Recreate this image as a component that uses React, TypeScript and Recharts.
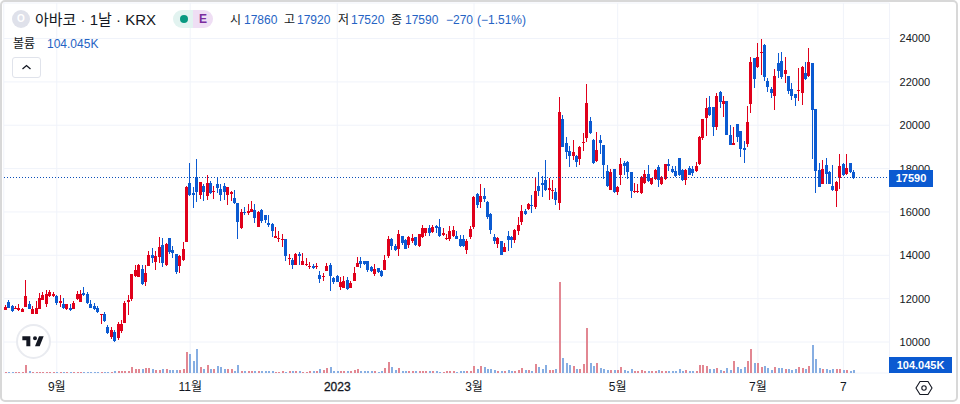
import React from "react";
import { ComposedChart, Bar, XAxis, YAxis, CartesianGrid, ReferenceLine } from "recharts";

const opens = [
  11480,11840,11680,11530,11470,11410,11610,11760,11300,11300,
  11530,11950,11760,12150,12150,12100,11790,11760,11530,11560,
  11530,11990,11840,12260,12230,11760,11670,11560,11250,11270,
  10670,10220,10480,10170,10510,10900,11870,11990,13030,13030,
  13380,12750,13520,14020,13710,13910,14490,13540,14800,14260,
  14060,13490,13770,14600,17320,16860,17630,16780,17200,16730,
  17350,16920,17270,17070,17200,16810,16840,16660,16390,15270,
  16010,15960,15990,16070,15330,16090,15840,15470,15450,14830,
  14770,14730,14760,13850,13800,13570,14060,13570,13570,13480,
  13520,13440,13100,13010,13290,13570,12940,13060,12530,12500,
  12840,12500,12830,13490,13740,13720,13720,13460,13150,13430,
  13270,13350,13960,14760,14420,14330,14900,14700,14490,14680,
  14850,14420,14850,15040,15270,15080,15340,15310,14940,14760,
  14760,14910,14910,14750,14750,14250,14840,15290,16840,16470,
  16730,16460,15920,14840,14500,14650,14160,14900,14840,14680,
  15150,15520,16060,16130,16320,16240,17210,17340,17490,17030,
  16950,16900,16400,20310,19160,18820,18600,18600,18460,19170,
  19400,20190,19300,18370,19330,19080,17890,17030,17980,16900,
  17720,18260,18310,17850,16920,16920,16870,17340,17750,17280,
  17520,18080,17310,17520,18220,18000,17890,18490,17940,17460,
  18050,17980,17910,18190,19390,20310,20850,20840,19910,21530,
  20960,21100,19570,19110,20050,19730,18930,19110,20960,23090,
  22730,23320,23690,22040,21650,21350,22860,22980,22360,22260,
  21690,21420,21560,21480,22400,22240,22870,20730,17950,17310,
  18180,17850,17210,16990,17570,18210,17750,18250,17860,
];
const highs = [
  11720,11920,11720,11640,11750,11560,12870,11870,11640,11870,
  12260,12290,12410,12380,12330,12180,12180,12020,11760,11760,
  11870,12350,12380,12530,12330,11950,11790,11640,11290,11380,
  10790,10670,10560,10940,11020,11870,12180,13150,13570,13600,
  13570,13570,14190,14340,14190,14850,14800,14570,14820,14420,
  14080,14030,14620,17200,18250,17150,18430,17400,17270,17710,
  17430,17200,17630,17270,17350,17170,16960,17000,16400,16150,
  16240,16380,16490,16350,16030,16120,15840,15880,15470,15310,
  15140,14960,14770,14080,13880,14110,14140,14110,13880,13680,
  13600,13640,13260,13180,13640,13640,13000,13100,13000,13030,
  13000,12800,13460,13920,13920,13720,13750,13490,13600,13430,
  13300,14020,14910,14800,14530,15190,14910,14730,14910,14960,
  14850,14990,15420,15270,15380,15420,15420,15680,15270,14960,
  15370,15370,15140,14950,14950,14750,15330,16720,16870,17310,
  17100,16490,15950,14990,14840,14650,14560,15100,14900,15210,
  15790,16330,16130,16410,16800,17550,17860,17650,18410,17570,
  17490,17100,21320,20450,19450,19030,19300,18650,19030,19650,
  21890,20380,19370,19700,19530,19110,18180,17980,17980,17210,
  18490,18340,18340,17860,17340,17300,17680,17950,18180,17570,
  17980,18180,17650,18230,18460,18140,18140,18510,17980,17980,
  18140,18140,18290,19500,20300,21270,21350,20850,21500,21580,
  21350,21120,19990,19930,20080,19730,19260,20910,23160,23120,
  23780,23970,23770,22190,21760,22610,23350,23380,23150,22270,
  21960,21420,22660,22730,22920,23550,22890,20760,18260,18380,
  18490,17880,18180,17410,18690,18260,18690,18260,17920,
];
const lows = [
  11480,11530,11420,11480,11440,11380,11610,11510,11300,11300,
  11510,11920,11640,12060,12100,11720,11640,11510,11480,11440,
  11480,11950,11820,12100,11790,11560,11450,11300,10840,10900,
  10360,10100,9990,10130,10430,10870,11250,11920,13000,13030,
  12640,12600,13490,13640,13310,13640,13460,13520,14080,13880,
  13180,13210,13750,14600,16730,16160,16460,16630,16500,16550,
  16810,16610,16890,16470,16580,16350,16500,16350,14730,15220,
  15880,15850,15960,15470,15310,15470,15470,15310,14830,14820,
  14620,14370,13750,13570,13380,13540,13540,13540,13520,13340,
  13370,13380,12690,12800,13260,12330,12690,12770,12410,12490,
  12380,12460,12800,13460,13410,13520,13230,13210,13030,13210,
  13000,13340,13910,14260,14190,14000,14490,14260,14370,14530,
  14420,14390,14800,14880,14880,15040,15040,14850,14880,14700,
  14700,14850,14760,14400,14410,14040,14720,15180,16180,16200,
  16440,15670,14990,14530,14310,13990,14130,14160,14330,14560,
  14950,15410,15870,16070,15980,16130,16750,16690,17000,16540,
  16600,16320,16100,18960,18420,18080,18390,18110,18140,18800,
  19220,19600,18230,18310,18650,17550,17150,17000,16870,16800,
  17260,17680,17520,16640,16900,16900,16840,17310,17400,17240,
  17490,17180,17240,17490,17920,17830,17650,17680,17410,17230,
  17710,17680,17830,18150,19340,19500,20450,19530,19770,20780,
  20370,19530,19110,19080,19260,18540,18250,19030,20580,21720,
  22610,22320,22040,21550,21270,20700,22190,22120,21930,21450,
  21160,20880,21160,20930,22090,22190,18480,16900,17150,17260,
  17310,17290,16980,16210,17090,17680,17710,17800,17520,
];
const closes = [
  11610,11560,11450,11590,11560,11530,12100,11530,11510,11590,
  12020,12180,12230,12330,12230,11760,11890,11580,11750,11480,
  11820,12210,12230,12160,11820,11560,11510,11380,11280,10940,
  10400,10560,10050,10830,10830,11820,11950,13140,13310,13570,
  12690,13180,14020,13860,13990,14390,13660,14530,14140,14110,
  13240,13970,14290,17150,16780,16780,16920,17400,16940,17350,
  16890,16970,17100,16780,16940,17170,16930,16430,15530,16010,
  15950,16040,16150,15700,16010,15580,15610,15360,15140,14910,
  14820,14760,13960,13890,13570,14080,13990,13740,13620,13520,
  13440,13490,12920,13060,13520,13060,12750,12800,12780,12830,
  12440,12720,13180,13660,13590,13570,13310,13290,13370,13260,
  13030,13800,14730,14420,14220,15000,14570,14280,14850,14820,
  14490,14960,15270,15270,15040,15310,15250,14880,15040,14800,
  15140,15190,14790,14410,14440,14670,15230,16690,16330,16750,
  16610,15790,15180,14650,14780,13990,14380,14720,14720,15150,
  15410,16040,15920,16350,16260,16980,16980,17230,17030,17100,
  17010,16520,20620,19000,18760,18600,18770,18340,19000,19230,
  21010,19620,18250,18880,19170,18140,17180,17860,16900,17150,
  18230,18110,17830,16980,16970,16970,17610,17770,17440,17570,
  17950,17460,17610,18220,18140,17860,17680,17710,17490,17920,
  17750,17800,18140,19450,20270,20780,20500,19910,21330,21070,
  21120,19530,19110,19190,19450,18880,18850,20130,22920,22120,
  23170,23380,22230,21750,21480,22260,22490,22240,22530,21550,
  21390,21240,21620,22690,22120,22900,20720,17880,17180,17990,
  17750,17310,17010,17400,18140,17690,18030,17830,17590,
];
const volumesK = [
  30,40,30,30,30,40,310,70,50,50,
  60,60,60,60,50,40,50,40,60,40,
  60,60,60,60,60,50,50,40,60,50,
  60,60,80,70,70,90,90,230,180,180,
  150,210,210,150,130,140,160,160,130,130,
  120,120,160,860,750,480,970,230,170,310,
  170,160,270,230,170,160,160,100,310,100,
  80,80,70,70,80,70,70,70,70,60,
  60,70,50,93,93,65,65,40,40,80,
  65,80,146,133,186,253,93,80,65,65,
  65,65,106,160,80,65,65,65,65,53,
  65,200,440,240,106,200,80,65,65,65,
  65,65,65,65,65,65,65,53,53,65,
  65,65,27,65,65,65,93,266,146,266,
  226,146,146,106,65,65,80,106,80,80,
  106,186,106,106,80,346,226,146,306,106,
  106,146,3660,585,412,306,266,146,146,346,
  1820,386,266,412,186,146,106,106,106,106,
  226,106,80,146,80,80,106,80,65,65,
  65,106,65,65,65,65,65,146,65,106,
  65,65,65,306,306,266,160,160,186,106,
  65,186,106,492,226,146,226,465,970,386,
  386,240,266,186,106,226,186,186,146,146,
  106,146,226,186,146,266,1130,572,186,160,
  160,106,146,160,146,106,106,65,104,
];
const tickIndexes = [15, 54, 97, 137, 179, 220, 245];
const tickLabels = ["9월", "11월", "2023", "3월", "5월", "7월", "7"];
const priceTicks = [10000, 12000, 14000, 16000, 18000, 20000, 22000, 24000];
const lastPrice = 17590;
const slotCount = 259;

const UP = "#e0001b";
const DOWN = "#0b5ad1";
const UP_VOL = "#e28792";
const DOWN_VOL = "#87aee2";
const TEXT = "#131722";
const VALUE = "#2563c4";

const rows = Array.from({ length: slotCount }, (_, i) => {
  if (i >= opens.length) return { idx: i };
  const o = opens[i], c = closes[i];
  return {
    idx: i,
    up: c >= o,
    wick: [lows[i], highs[i]],
    body: [Math.min(o, c), Math.max(o, c)],
    volume: volumesK[i],
  };
});

const Candle = (p: any) => {
  if (p.payload?.wick == null || !Number.isFinite(p.y) || !Number.isFinite(p.height)) return null;
  return (
    <rect x={Math.round(p.x)} y={Math.round(p.y)} width={p.barW}
      height={Math.max(1, Math.round(p.height))}
      fill={p.payload.up ? UP : DOWN} shapeRendering="crispEdges" />
  );
};
const VolumeBar = (p: any) => {
  if (p.payload?.volume == null || !Number.isFinite(p.height)) return null;
  const top = Math.round(p.y);
  const bottom = Math.round(p.y + p.height);
  return (
    <rect x={Math.round(p.x)} y={Math.min(top, bottom - 1)} width={2}
      height={Math.max(1, bottom - top)}
      fill={p.payload.up ? UP_VOL : DOWN_VOL} shapeRendering="crispEdges" />
  );
};
const AxisTick = (p: any) => {
  const label = tickLabels[tickIndexes.indexOf(p.payload.value)];
  return (
    <text x={p.x} y={388} textAnchor="middle" dominantBaseline="middle" fontSize={12}
      stroke={label === "2023" ? TEXT : "none"} strokeWidth={0.3} fill={TEXT}>{label}</text>
  );
};

const abs = (left: number, top: number, extra: React.CSSProperties = {}): React.CSSProperties => ({
  position: "absolute", left, top, whiteSpace: "nowrap", ...extra,
});
const ohlc: [string, number, string, number][] = [
  ["시", 230, "17860", 244],
  ["고", 284, "17920", 297],
  ["저", 338, "17520", 351],
  ["종", 391, "17590", 405],
];

export default function App() {
  return (
    <div style={{ position: "fixed", left: 0, top: 0, width: 960, height: 404, background: "#fff", overflow: "hidden",
      fontFamily: '"Liberation Sans", "Noto Sans CJK KR", sans-serif', color: TEXT }}>
      <ComposedChart width={960} height={404} data={rows} barCategoryGap={0}
        margin={{ top: 3, right: 0, bottom: 0, left: 3.79 }}
        style={{ position: "absolute", left: 0, top: 0, fontFamily: "inherit" }}>
        <CartesianGrid xAxisId="main" yAxisId="price" stroke="#f0f3fa" strokeWidth={1} />
        <XAxis xAxisId="main" dataKey="idx" type="category" ticks={tickIndexes} interval={0} height={31}
          axisLine={false} tickLine={false} tick={AxisTick} />
        <XAxis xAxisId="wick" dataKey="idx" type="category" hide />
        <XAxis xAxisId="vol" dataKey="idx" type="category" hide />
        <YAxis yAxisId="price" orientation="right" domain={[8570, 25640]} ticks={priceTicks} interval={0}
          width={70.43} axisLine={false} tickLine={false} tickMargin={4} allowDataOverflow
          tick={{ fontSize: 11, fill: TEXT }} />
        <YAxis yAxisId="volume" orientation="left" domain={[0, 14800]} hide allowDataOverflow />
        <ReferenceLine xAxisId="main" yAxisId="price" y={lastPrice} stroke="#0b4fb8" strokeDasharray="1 2"
          strokeWidth={1} shapeRendering="crispEdges" />
        <Bar xAxisId="vol" yAxisId="volume" dataKey="volume" barSize={2} isAnimationActive={false} shape={VolumeBar} />
        <Bar xAxisId="wick" yAxisId="price" dataKey="wick" barSize={1} isAnimationActive={false}
          shape={(p: any) => <Candle {...p} barW={1} />} />
        <Bar xAxisId="main" yAxisId="price" dataKey="body" barSize={3} isAnimationActive={false}
          shape={(p: any) => <Candle {...p} barW={3} />} />
      </ComposedChart>

      {/* frame */}
      <div style={{ position: "absolute", left: 0, top: 0, width: 954, height: 398, border: "2px solid #d8d8d8", borderRadius: 5, pointerEvents: "none" }} />

      {/* header */}
      <div style={abs(12, 10, { width: 18, height: 18, borderRadius: 9, background: "#dfe1ea", color: "#fff", fontSize: 10, fontWeight: 700, lineHeight: "18px", textAlign: "center" })}>O</div>
      <div style={abs(35, 10, { fontSize: 15, lineHeight: "19px" })}>아바코 · 1날 · KRX</div>
      <div style={abs(173, 10, { width: 20, height: 18, background: "#e2f3f0", borderRadius: "9px 0 0 9px" })} />
      <div style={abs(193, 10, { width: 20, height: 18, background: "#efdef4", borderRadius: "0 9px 9px 0", color: "#7b2c9e", fontSize: 12, fontWeight: 700, lineHeight: "18px", textAlign: "center" })}>E</div>
      <div style={abs(180, 15, { width: 8, height: 8, borderRadius: 4, background: "#089981" })} />
      {ohlc.map(([k, kx, v, vx]) => (
        <React.Fragment key={k}>
          <span style={abs(kx, 13, { fontSize: 12, lineHeight: "14px" })}>{k}</span>
          <span style={abs(vx, 13, { fontSize: 12, lineHeight: "14px", color: VALUE })}>{v}</span>
        </React.Fragment>
      ))}
      <span style={abs(446, 13, { fontSize: 12, lineHeight: "14px", color: VALUE })}>−270</span>
      <span style={abs(477, 13, { fontSize: 12, lineHeight: "14px", color: VALUE })}>(−1.51%)</span>
      <span style={abs(13, 37, { fontSize: 12, lineHeight: "14px" })}>볼륨</span>
      <span style={abs(47, 37, { fontSize: 12, lineHeight: "14px", color: VALUE })}>104.045K</span>
      <div style={abs(12, 57, { width: 27, height: 19, border: "1px solid #e0e3eb", borderRadius: 3, background: "#fff" })}>
        <svg width={27} height={19} style={{ display: "block" }}>
          <path d="M9.5 11 L13.5 7.5 L17.5 11" fill="none" stroke="#131722" strokeWidth={1.3} />
        </svg>
      </div>

      {/* last value labels */}
      <div style={abs(889, 170, { width: 44, height: 17, background: DOWN, color: "#fff", fontSize: 11, fontWeight: 700, lineHeight: "17px", textAlign: "center" })}>17590</div>
      <div style={abs(889, 357, { width: 63, height: 16, background: DOWN, color: "#fff", fontSize: 11, fontWeight: 700, lineHeight: "16px", textAlign: "center" })}>104.045K</div>

      {/* settings */}
      <svg width={18} height={18} style={abs(915, 379)}>
        <path d="M5 2.5 H13 L17 9 L13 15.5 H5 L1 9 Z" fill="none" stroke="#131722" strokeWidth={1.1} />
        <circle cx={9} cy={9} r={2.2} fill="none" stroke="#131722" strokeWidth={1.1} />
      </svg>

      {/* logo */}
      <div style={abs(15.5, 324, { width: 31, height: 31, border: "2px solid #e9ebf0", borderRadius: "50%", background: "#fff" })}>
        <svg width={24} height={19} viewBox="0 0 36 28" style={{ position: "absolute", left: 3.5, top: 6 }}>
          <path d="M14 6H2v6h6v9h6V6zm14 15h-7l6-15h7l-6 15zm-7-9a3 3 0 1 0 0-6 3 3 0 0 0 0 6z" fill="#131722" />
        </svg>
      </div>
    </div>
  );
}
